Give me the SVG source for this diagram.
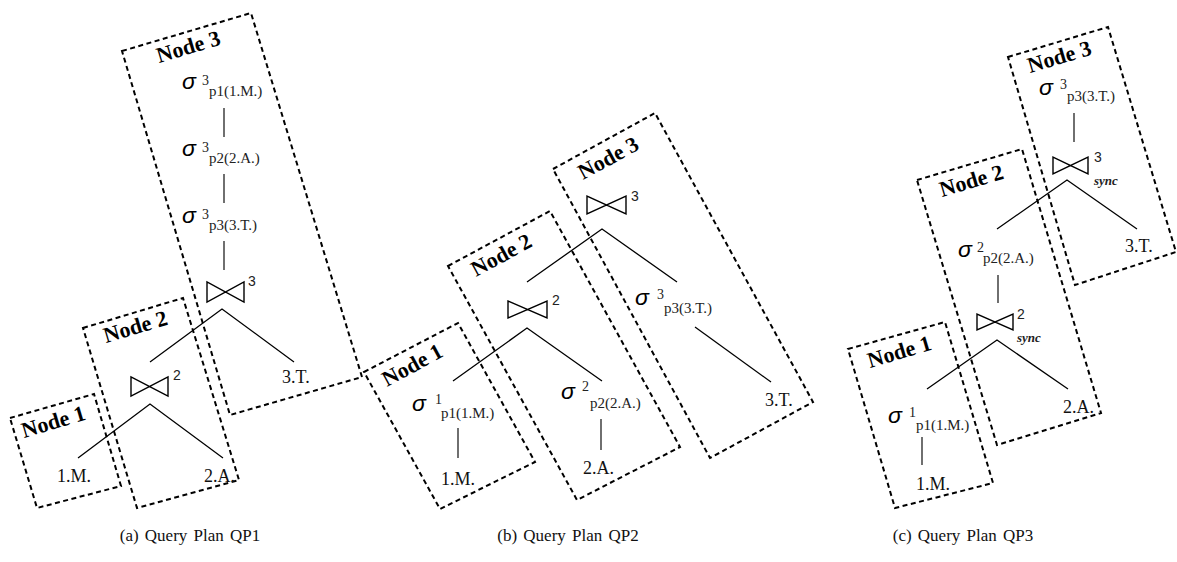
<svg xmlns="http://www.w3.org/2000/svg" width="1177" height="562" viewBox="0 0 1177 562">
<style>
.box{fill:none;stroke:#000;stroke-width:2;stroke-dasharray:5 3.5}
.lbl{font-family:"Liberation Serif",serif;font-weight:bold;font-size:22px;fill:#000}
.sig{font-family:"Liberation Sans",sans-serif;font-style:italic;font-size:23px;fill:#000}
.sup{font-family:"Liberation Serif",serif;font-size:14px;fill:#222}
.jsup{font-family:"Liberation Sans",sans-serif;font-size:14px;fill:#222}
.sub{font-family:"Liberation Serif",serif;font-size:15px;fill:#222}
.leaf{font-family:"Liberation Serif",serif;font-size:18px;fill:#111}
.sync{font-family:"Liberation Serif",serif;font-style:italic;font-weight:bold;font-size:13px;fill:#222}
.cap{font-family:"Liberation Serif",serif;font-size:17px;fill:#111;word-spacing:2px}
.ln{fill:none;stroke:#000;stroke-width:1.3}
.vl{fill:none;stroke:#333;stroke-width:1.4}
.bt{fill:#fff;stroke:#000;stroke-width:1.4;stroke-linejoin:miter}
</style>

<!-- Panel (a) -->
<g id="a-node3">
<polygon class="box" points="122,51 251,13 362,377 230,415"/>
<text class="lbl" transform="translate(159,63) rotate(-16.5)">Node 3</text>
</g>
<g id="a-node2">
<polygon class="box" points="83,328 183,298 239,480 137,508"/>
<text class="lbl" transform="translate(106,343) rotate(-16.5)">Node 2</text>
</g>
<g id="a-node1">
<polygon class="box" points="10,418 94,394 121,486 37,508"/>
<text class="lbl" transform="translate(24,438) rotate(-16.5)">Node 1</text>
</g>
<g id="a-sel1"><text class="sig" x="182" y="89">σ</text><text class="sup" x="202" y="85">3</text><text class="sub" x="209" y="96">p1(1.M.)</text></g>
<g id="a-sel2"><text class="sig" x="182" y="156">σ</text><text class="sup" x="202" y="152">3</text><text class="sub" x="209" y="163">p2(2.A.)</text></g>
<g id="a-sel3"><text class="sig" x="182" y="223">σ</text><text class="sup" x="202" y="219">3</text><text class="sub" x="209" y="230">p3(3.T.)</text></g>
<g id="a-join3"><path class="bt" d="M207,282 V302 L244,282 V302 Z"/><text class="jsup" x="248" y="286">3</text></g>
<g id="a-join2"><path class="bt" d="M131,377 V396 L168,377 V396 Z"/><text class="jsup" x="173" y="380">2</text></g>
<g id="a-leaf3T"><text class="leaf" x="282" y="383">3.T.</text></g>
<g id="a-leaf1M"><text class="leaf" x="57" y="482">1.M.</text></g>
<g id="a-leaf2A"><text class="leaf" x="204" y="482">2.A.</text></g>
<g id="a-edges">
<line class="vl" x1="224" y1="108" x2="224" y2="137"/>
<line class="vl" x1="224" y1="174" x2="224" y2="203"/>
<line class="vl" x1="224" y1="241" x2="224" y2="270"/>
<polyline class="ln" points="150,362 222,309 294,362"/>
<polyline class="ln" points="78,458 150,404 223,458"/>
</g>

<!-- Panel (b) -->
<g id="b-node3">
<polygon class="box" points="553,169 655,113 813,402 710,458"/>
<text class="lbl" transform="translate(583,180) rotate(-28.5)">Node 3</text>
</g>
<g id="b-node2">
<polygon class="box" points="448,266 550,211 680,447 577,500"/>
<text class="lbl" transform="translate(476,277) rotate(-28.5)">Node 2</text>
</g>
<g id="b-node1">
<polygon class="box" points="364,372 458,323 535,462 440,509"/>
<text class="lbl" transform="translate(387,387) rotate(-28.5)">Node 1</text>
</g>
<g id="b-join3"><path class="bt" d="M587,196 V214 L626,196 V214 Z"/><text class="jsup" x="631" y="201">3</text></g>
<g id="b-sel3"><text class="sig" x="635" y="305">σ</text><text class="sup" x="657" y="299">3</text><text class="sub" x="664" y="313">p3(3.T.)</text></g>
<g id="b-leaf3T"><text class="leaf" x="765" y="406">3.T.</text></g>
<g id="b-join2"><path class="bt" d="M508,301 V318 L547,301 V318 Z"/><text class="jsup" x="552" y="305">2</text></g>
<g id="b-sel1"><text class="sig" x="412" y="411">σ</text><text class="sup" x="435" y="404">1</text><text class="sub" x="441" y="418">p1(1.M.)</text></g>
<g id="b-leaf1M"><text class="leaf" x="441" y="485">1.M.</text></g>
<g id="b-sel2"><text class="sig" x="561" y="399">σ</text><text class="sup" x="582" y="391">2</text><text class="sub" x="590" y="408">p2(2.A.)</text></g>
<g id="b-leaf2A"><text class="leaf" x="583" y="474">2.A.</text></g>
<g id="b-edges">
<polyline class="ln" points="527,282 602,229 677,282"/>
<line class="ln" x1="695" y1="327" x2="771" y2="382"/>
<polyline class="ln" points="453,381 527,328 602,381"/>
<line class="vl" x1="458" y1="428" x2="458" y2="458"/>
<line class="vl" x1="601" y1="419" x2="601" y2="450"/>
</g>

<!-- Panel (c) -->
<g id="c-node3">
<polygon class="box" points="1008,57 1108,27 1176,252 1075,285"/>
<text class="lbl" transform="translate(1030,73) rotate(-16.5)">Node 3</text>
</g>
<g id="c-node2">
<polygon class="box" points="917,180 1022,149 1101,413 997,445"/>
<text class="lbl" transform="translate(942,197) rotate(-16.5)">Node 2</text>
</g>
<g id="c-node1">
<polygon class="box" points="848,349 945,322 993,483 895,508"/>
<text class="lbl" transform="translate(870,368) rotate(-16.5)">Node 1</text>
</g>
<g id="c-sel3"><text class="sig" x="1039" y="95">σ</text><text class="sup" x="1060" y="89">3</text><text class="sub" x="1067" y="101">p3(3.T.)</text></g>
<g id="c-join3"><path class="bt" d="M1053,157 V174 L1088,157 V174 Z"/><text class="jsup" x="1094" y="162">3</text><text class="sync" x="1094" y="185">sync</text></g>
<g id="c-leaf3T"><text class="leaf" x="1125" y="252">3.T.</text></g>
<g id="c-sel2"><text class="sig" x="958" y="257">σ</text><text class="sup" x="977" y="252">2</text><text class="sub" x="983" y="263">p2(2.A.)</text></g>
<g id="c-join2"><path class="bt" d="M977,314 V330 L1013,314 V330 Z"/><text class="jsup" x="1017" y="319">2</text><text class="sync" x="1017" y="342">sync</text></g>
<g id="c-leaf2A"><text class="leaf" x="1063" y="413">2.A.</text></g>
<g id="c-sel1"><text class="sig" x="888" y="423">σ</text><text class="sup" x="909" y="417">1</text><text class="sub" x="916" y="430">p1(1.M.)</text></g>
<g id="c-leaf1M"><text class="leaf" x="916" y="490">1.M.</text></g>
<g id="c-edges">
<line class="vl" x1="1074" y1="113" x2="1074" y2="142"/>
<polyline class="ln" points="997,229 1067,180 1137,229"/>
<line class="vl" x1="998" y1="275" x2="998" y2="303"/>
<polyline class="ln" points="927,389 997,340 1068,389"/>
<line class="vl" x1="922" y1="437" x2="922" y2="465"/>
</g>

<!-- Captions -->
<g id="captions">
<text class="cap" x="190" y="541" text-anchor="middle">(a) Query Plan QP1</text>
<text class="cap" x="568" y="541" text-anchor="middle">(b) Query Plan QP2</text>
<text class="cap" x="963" y="541" text-anchor="middle">(c) Query Plan QP3</text>
</g>
</svg>
